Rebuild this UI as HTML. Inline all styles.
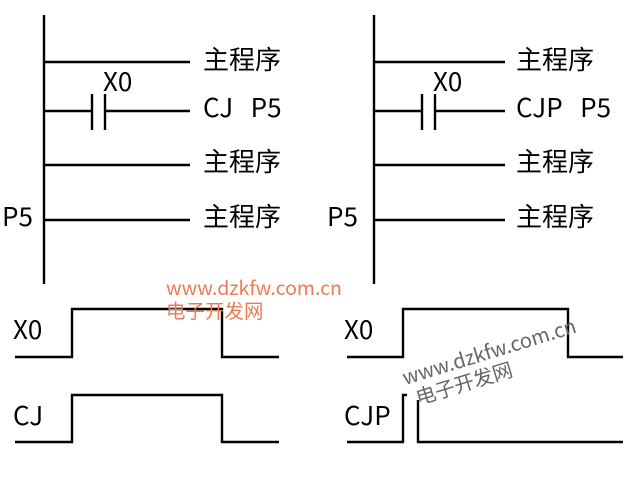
<!DOCTYPE html>
<html><head><meta charset="utf-8"><style>
body{margin:0;background:#fff;width:630px;height:478px;overflow:hidden}
</style></head><body>
<svg width="630" height="478" xmlns="http://www.w3.org/2000/svg" font-family="Noto Sans CJK SC, Liberation Sans, sans-serif">
<g stroke="#000" stroke-width="2.4" fill="none">
<line x1="44" y1="15" x2="44" y2="284"/>
<line x1="44" y1="62" x2="190" y2="62"/>
<line x1="44" y1="111" x2="92" y2="111"/><line x1="105" y1="111" x2="190" y2="111"/>
<line x1="92" y1="94" x2="92" y2="130"/><line x1="105" y1="94" x2="105" y2="130"/>
<line x1="44" y1="165" x2="190" y2="165"/>
<line x1="44" y1="220" x2="190" y2="220"/>
<line x1="374" y1="15" x2="374" y2="284"/>
<line x1="374" y1="62" x2="505" y2="62"/>
<line x1="374" y1="111" x2="422" y2="111"/><line x1="435" y1="111" x2="505" y2="111"/>
<line x1="422" y1="94" x2="422" y2="130"/><line x1="435" y1="94" x2="435" y2="130"/>
<line x1="374" y1="165" x2="505" y2="165"/>
<line x1="374" y1="220" x2="505" y2="220"/>
<polyline points="15,357 72,357 72,309 222,309 222,357 279,357"/>
<polyline points="15,442 72,442 72,395 222,395 222,442 279,442"/>
<polyline points="347,357 403,357 403,309 568,309 568,357 623,357"/>
<polyline points="347,442 403,442 403,395 407,395"/>
<polyline points="418,400 418,442 623,442"/>
</g>
<g font-size="26" fill="#000">
<text x="203" y="69">主程序</text>
<text x="203" y="117">CJ&#160;&#160;&#160;P5</text>
<text x="203" y="171">主程序</text>
<text x="203" y="226">主程序</text>
<text x="103" y="91">X0</text>
<text x="2" y="226">P5</text>
<text x="516" y="69">主程序</text>
<text x="516" y="117">CJP&#160;&#160;&#160;P5</text>
<text x="516" y="171">主程序</text>
<text x="516" y="226">主程序</text>
<text x="433" y="91">X0</text>
<text x="327" y="226">P5</text>
<text x="13" y="339">X0</text>
<text x="13" y="425">CJ</text>
<text x="344" y="339">X0</text>
<text x="344" y="425">CJP</text>
</g>
<g fill="#ee7a55" font-size="19.5">
<text x="166" y="295">www.dzkfw.com.cn</text>
<text x="166" y="318">电子开发网</text>
</g>
<g fill="#666" font-size="20" transform="rotate(-17 405 385)">
<text x="405" y="385">www.dzkfw.com.cn</text>
<text x="412" y="408">电子开发网</text>
</g>
</svg>
</body></html>
